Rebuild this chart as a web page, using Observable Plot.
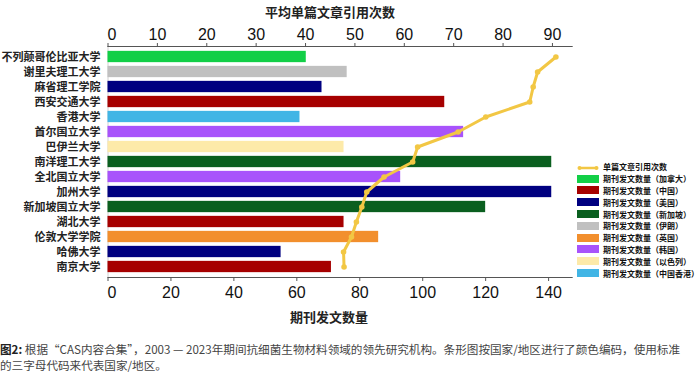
<!DOCTYPE html>
<html>
<head>
<meta charset="utf-8">
<script src="https://cdn.jsdelivr.net/npm/d3@7"></script>
<script src="https://cdn.jsdelivr.net/npm/@observablehq/plot@0.6"></script>
<style>
  html, body { margin: 0; padding: 0; background: #fff; }
  #wrap { position: relative; width: 700px; height: 376px; overflow: hidden; }
  #legend { position: absolute; left: 577px; top: 161px; font-family: "Noto Sans CJK SC", sans-serif; font-size: 8px; font-weight: bold; color: #111; }
  .lg { display: flex; align-items: center; height: 11.8px; }
  .sw { width: 22px; height: 8px; margin-right: 4px; box-sizing: border-box; }
  .ln { width: 22px; height: 8px; margin-right: 4px; position: relative; }
  #caption { position: absolute; left: 0; top: 342px; width: 720px; font-family: "Noto Sans CJK SC", sans-serif; font-size: 11.6px; line-height: 15.5px; color: #444; white-space: nowrap; }
</style>
</head>
<body>
<div id="wrap">
  <div id="chart"></div>
  <div id="legend"></div>
  <div id="caption"><b style="color:#222">图2:</b> 根据“CAS内容合集”，2003 — 2023年期间抗细菌生物材料领域的领先研究机构。条形图按国家/地区进行了颜色编码，使用标准<br>的三字母代码来代表国家/地区。</div>
</div>
<script>
const institutions = ["不列颠哥伦比亚大学","谢里夫理工大学","麻省理工学院","西安交通大学","香港大学","首尔国立大学","巴伊兰大学","南洋理工大学","全北国立大学","加州大学","新加坡国立大学","湖北大学","伦敦大学学院","哈佛大学","南京大学"];
const countries = ["加拿大","伊朗","美国","中国","中国香港","韩国","以色列","新加坡","韩国","美国","新加坡","中国","英国","美国","中国"];
const publications = [63,76,68,107,61,113,75,141,93,141,120,75,86,55,71];
const citations = [90.7,87.0,86.1,85.4,76.5,70.9,62.7,61.7,55.9,52.4,51.4,50.3,49.3,47.7,47.8];
const legendCountries = ["加拿大","中国","美国","新加坡","伊朗","英国","韩国","以色列","中国香港"];
const legendColors = ["#12cf47","#a60000","#000080","#0a5f1f","#c0c0c0","#f28f2d","#a853fb","#fdeaa9","#41b5e5"];
const bottomTicks = [0,20,40,60,80,100,120,140];
const topTicks = [0,10,20,30,40,50,60,70,80,90];
const bottomMax = 147.5, topMax = 94;
const k = bottomMax / topMax;
const lineColor = "#f2c744";

const data = institutions.map((inst, i) => ({inst, country: countries[i], pub: publications[i], cit: citations[i]}));
const fmt0 = d => d === 0 ? "\u20020" : String(d);

const chart = Plot.plot({
  width: 700, height: 336,
  marginLeft: 107.5, marginRight: 128.3, marginTop: 46, marginBottom: 59,
  x: {domain: [0, bottomMax]},
  y: {domain: institutions, padding: 0},
  color: {domain: legendCountries, range: legendColors},
  style: {fontFamily: "'Liberation Sans', 'Noto Sans CJK SC', sans-serif", color: "#111", overflow: "visible"},
  marks: [
    Plot.ruleX([0], {stroke: "#d0d0d0"}),
    Plot.barX(data, {x: "pub", y: "inst", fill: "country", insetTop: 1.85, insetBottom: 1.85}),
    Plot.line(data, {x: d => d.cit * k, y: "inst", stroke: lineColor, strokeWidth: 3}),
    Plot.dot(data, {x: d => d.cit * k, y: "inst", fill: lineColor, r: 2.8}),
    Plot.frame({anchor: "top", stroke: "#555"}),
    Plot.frame({anchor: "bottom", stroke: "#555"}),
    Plot.axisY({tickSize: 0, tickPadding: 7.5, fontSize: 11, fontWeight: "bold", fontFamily: "'Noto Sans CJK SC'", fill: "#222", label: null}),
    Plot.axisX({anchor: "bottom", ticks: bottomTicks, tickFormat: fmt0, tickSize: 4, tickPadding: 5, fontSize: 16, stroke: "#555", label: null}),
    Plot.axisX({anchor: "top", ticks: topTicks.map(t => t * k), tickFormat: d => fmt0(Math.round(d / k)), tickSize: 4, tickPadding: 3, fontSize: 16, stroke: "#555", label: null}),
    Plot.text(["平均单篇文章引用次数"], {frameAnchor: "top", dy: -39, dx: -10, fontSize: 13, fontWeight: "bold", fontFamily: "'Noto Sans CJK SC'", fill: "#222"}),
    Plot.text(["期刊发文数量"], {frameAnchor: "bottom", dy: 44, dx: -11, fontSize: 13, fontWeight: "bold", fontFamily: "'Noto Sans CJK SC'", fill: "#222"})
  ]
});
document.getElementById("chart").append(chart);

const legend = document.getElementById("legend");
const lineRow = document.createElement("div");
lineRow.className = "lg";
lineRow.innerHTML = `<div class="ln"><svg width="22" height="8"><line x1="2" y1="4" x2="20" y2="4" stroke="${lineColor}" stroke-width="2.5"/><circle cx="2.5" cy="4" r="2" fill="${lineColor}"/><circle cx="19.5" cy="4" r="2" fill="${lineColor}"/></svg></div><span>单篇文章引用次数</span>`;
legend.append(lineRow);
legendCountries.forEach((c, i) => {
  const row = document.createElement("div");
  row.className = "lg";
  row.innerHTML = `<div class="sw" style="background:${legendColors[i]}"></div><span>期刊发文数量（${c}）</span>`;
  legend.append(row);
});
</script>
</body>
</html>
